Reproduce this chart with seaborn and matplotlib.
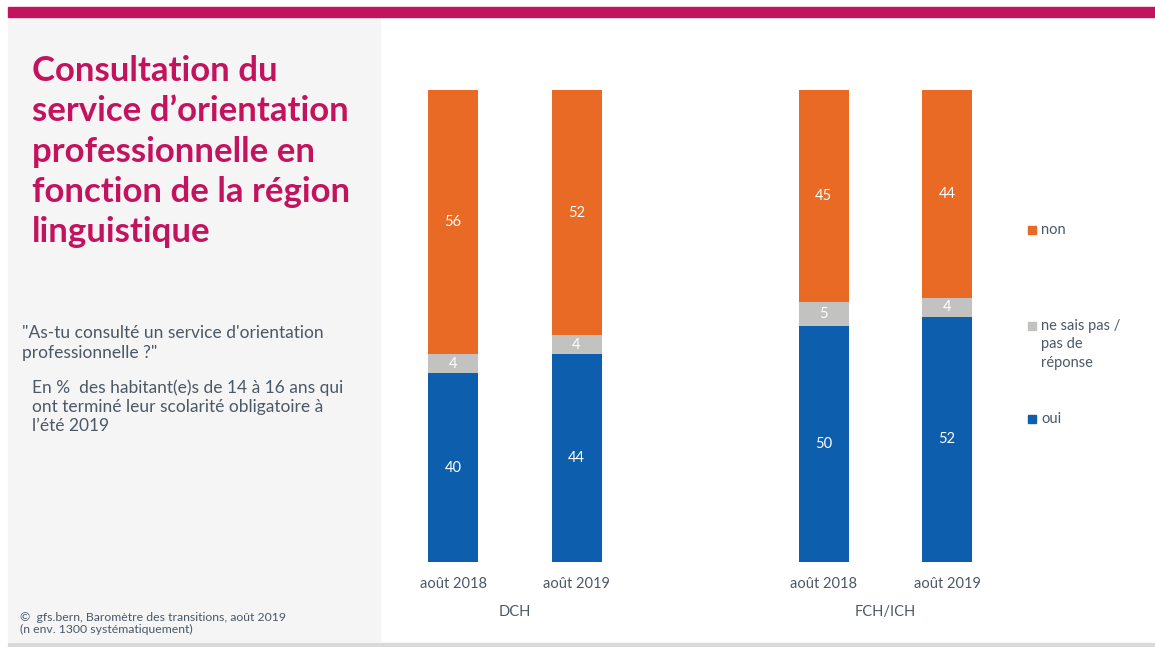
import numpy as np
import pandas as pd
import matplotlib.pyplot as plt
import matplotlib.patches as mpatches
import seaborn as sns

# données (en %)
regions = ['DCH', 'DCH', 'FCH/ICH', 'FCH/ICH']
periods = ['août 2018', 'août 2019', 'août 2018', 'août 2019']
oui = [40, 44, 50, 52]
nsp = [4, 4, 5, 4]
non = [56, 52, 45, 44]
positions = [0, 1, 3, 4]

series_names = ['non', 'ne sais pas /\npas de\nréponse', 'oui']
series_colors = ['#E86A24', '#C2C2C1', '#0D5FAD']

MAGENTA = '#C4135E'
TXT = '#4B5866'

sns.set_theme(style='white')
plt.rcParams['font.family'] = ['Lato', 'DejaVu Sans']

W, H = 1155, 647
fig = plt.figure(figsize=(W / 100, H / 100), dpi=100)

def fx(px):
    return px / W

def fy(py):
    return 1 - py / H

# fond gauche, bandeau et ligne du bas
fig.patches.append(mpatches.Rectangle((fx(8), fy(641)), fx(372), (624) / H,
                                      transform=fig.transFigure, color='#F5F5F5', zorder=0))
fig.patches.append(mpatches.Rectangle((fx(8), fy(17)), 1 - fx(8), 10 / H,
                                      transform=fig.transFigure, color=MAGENTA, zorder=0))
fig.patches.append(mpatches.Rectangle((fx(8), 0), 1 - fx(8), 4 / H,
                                      transform=fig.transFigure, color='#D9D9D9', zorder=0))

df = pd.DataFrame({'pos': positions, 'region': regions, 'period': periods,
                   'oui': oui, 'nsp': nsp, 'non': non})
df['top_nsp'] = df['oui'] + df['nsp']
df['top_non'] = df['top_nsp'] + df['non']

# axes placed so bars land at the reference pixel positions
unit = 123.5
x0_px = 453
ax_left, ax_right = 380, 1000
ax = fig.add_axes([fx(ax_left), fy(562), fx(ax_right - ax_left), (562 - 90) / H])
ax.patch.set_alpha(0)

bw = 50 / unit
for col, color in zip(['top_non', 'top_nsp', 'oui'], series_colors):
    sns.barplot(data=df, x='pos', y=col, native_scale=True, color=color,
                width=bw, linewidth=0, saturation=1, ax=ax)

ax.set_xlim((ax_left - x0_px) / unit, (ax_right - x0_px) / unit)
ax.set_ylim(0, 100)
sns.despine(ax=ax, left=True, bottom=True)
ax.set_yticks([])
ax.set_ylabel('')
ax.set_xlabel('')
ax.set_xticks(positions)
ax.set_xticklabels(periods, fontsize=10.5, color=TXT)
ax.tick_params(axis='x', length=0, pad=11)

# valeurs dans les barres
for i, row in df.iterrows():
    segs = [(0, row['oui']), (row['oui'], row['nsp']), (row['top_nsp'], row['non'])]
    for base, v in segs:
        ax.text(row['pos'], base + v / 2, f'{v}', ha='center', va='center',
                color='white', fontsize=10.5)

# noms des régions
grp_y = -(612 - 562) / (562 - 90)
for reg in ['DCH', 'FCH/ICH']:
    p = df.loc[df['region'] == reg, 'pos'].mean()
    ax.text(p, grp_y, reg, transform=ax.get_xaxis_transform(), ha='center', va='center',
            fontsize=10.5, color=TXT)

# légende (carré aligné sur la première ligne du libellé)
leg_y = [230, 326, 419]
for name, color, yy in zip(series_names, series_colors, leg_y):
    fig.patches.append(mpatches.Rectangle((fx(1028), fy(yy + 4)), 8 / W, 8 / H,
                                          transform=fig.transFigure, color=color))
    fig.text(fx(1041), fy(yy - 7), name, ha='left', va='top', fontsize=10.5,
             color=TXT, linespacing=1.4)

# titre et textes à gauche
fig.text(fx(32), fy(55), "Consultation du\nservice d’orientation\nprofessionnelle en\nfonction de la région\nlinguistique",
         ha='left', va='top', fontsize=25, fontweight='bold', color=MAGENTA, linespacing=1.32)
fig.text(fx(22), fy(325), "\"As-tu consulté un service d'orientation\nprofessionnelle ?\"",
         ha='left', va='top', fontsize=12.5, color=TXT, linespacing=1.28)
fig.text(fx(32), fy(379), "En %  des habitant(e)s de 14 à 16 ans qui\nont terminé leur scolarité obligatoire à\nl’été 2019",
         ha='left', va='top', fontsize=12.5, color=TXT, linespacing=1.26)
fig.text(fx(20), fy(612), "©  gfs.bern, Baromètre des transitions, août 2019\n(n env. 1300 systématiquement)",
         ha='left', va='top', fontsize=8.8, color=TXT, linespacing=1.1)

fig.savefig('out.png', dpi=100)
